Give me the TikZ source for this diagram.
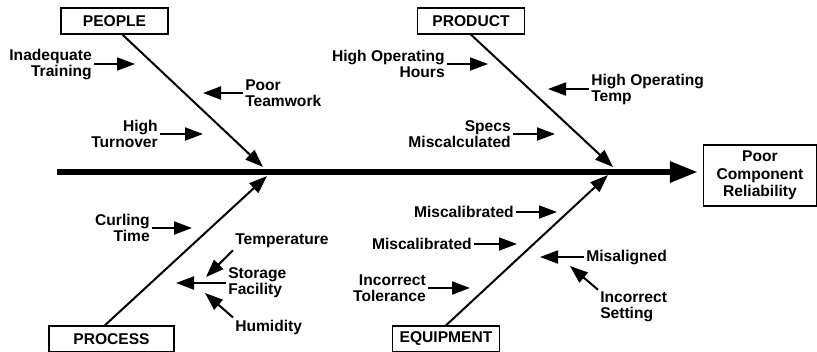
\documentclass[tikz,border=0pt]{standalone}
\usepackage{fontspec}
\setmainfont{Liberation Sans}
\usetikzlibrary{arrows.meta}
\begin{document}
\begin{tikzpicture}[x=0.75pt,y=-0.75pt,>={Triangle[length=13.5pt,width=9.75pt]},
  font=\fontsize{11.7}{12}\selectfont\bfseries,
  catbox/.style={draw,line width=1pt,minimum width=80.25pt,minimum height=19.5pt,inner sep=0pt},
  cause/.style={inner sep=1.5pt},
  bone/.style={line width=1.5pt,->},
  sub/.style={line width=1.5pt,->}]
 \clip (0,0) rectangle (817,351);
 % head and spine
 \node[catbox,minimum width=84.75pt,minimum height=45.75pt,align=center,font=\fontsize{11.7}{13}\selectfont\bfseries] (effect) at (760,175.5) {Poor\\Component\\Reliability};
 \coordinate (tail) at (57,172);
 \draw[line width=4.5pt,-{Triangle[length=21pt,width=15pt]},shorten >=3.75pt] (tail) -- (tail -| effect.west);
 % categories
 \node[catbox] (people) at (114.5,21) {PEOPLE};
 \node[catbox] (product) at (471,21) {PRODUCT};
 \node[catbox,minimum width=93.75pt] (process) at (111.5,339) {PROCESS};
 \node[catbox] (equip) at (446,339) {EQUIPMENT};
 \coordinate (pTip) at (263,167);
 \coordinate (dTip) at (613,167);
 \coordinate (sTip) at (267,176);
 \coordinate (eTip) at (608,175);
 \draw[bone] ([xshift=6pt]people.south) -- (pTip);
 \draw[bone] (product.south) -- (dTip);
 \draw[bone] ([xshift=-5pt]process.north) -- (sTip);
 \draw[bone] (equip.north) -- (eTip);
 % people
 \node[cause,anchor=east,align=right] (c1) at (94,64) {Inadequate\\Training};
 \node[cause,anchor=west,align=left] (c2) at (243,93) {Poor\\Teamwork};
 \node[cause,anchor=east,align=right] (c3) at (160,134) {High\\Turnover};
 \coordinate (a1) at (135,64);
 \coordinate (a2) at (203,93);
 \coordinate (a3) at (203,134);
 \draw[sub] (c1.east) -- (a1);
 \draw[sub] (c2.west) -- (a2);
 \draw[sub] (c3.east) -- (a3);
 % product
 \node[cause,anchor=east,align=right] (c4) at (447,64) {High Operating\\Hours};
 \node[cause,anchor=west,align=left] (c5) at (589,89) {High Operating\\Temp};
 \node[cause,anchor=east,align=right] (c6) at (513,134) {Specs\\Miscalculated};
 \coordinate (a4) at (488,64);
 \coordinate (a5) at (548,89);
 \coordinate (a6) at (555,134);
 \draw[sub] (c4.east) -- (a4);
 \draw[sub] (c5.west) -- (a5);
 \draw[sub] (c6.east) -- (a6);
 % process
 \node[cause,anchor=east,align=right] (c7) at (152,228) {Curling\\Time};
 \node[cause,anchor=west] (c8) at (233,241) {Temperature};
 \node[cause,anchor=west,align=left] (c9) at (226,283) {Storage\\Facility};
 \node[cause,anchor=west] (c10) at (233,327) {Humidity};
 \coordinate (a7) at (192,228);
 \coordinate (a8) at (206,277);
 \coordinate (a9) at (176,283);
 \coordinate (a10) at (205,293);
 \draw[sub] (c7.east) -- (a7);
 \draw[sub] (c8.south west) -- (a8);
 \draw[sub] (c9.west) -- (a9);
 \draw[sub] (c10.north west) -- (a10);
 % equipment
 \node[cause,anchor=east] (c11) at (516,212) {Miscalibrated};
 \node[cause,anchor=east] (c12) at (474,244) {Miscalibrated};
 \node[cause,anchor=east,align=right] (c13) at (428,288) {Incorrect\\Tolerance};
 \node[cause,anchor=west] (c14) at (584,257) {Misaligned};
 \node[cause,anchor=west,align=left] (c15) at (598,307) {Incorrect\\Setting};
 \coordinate (a11) at (557,212);
 \coordinate (a12) at (517,244);
 \coordinate (a13) at (470,288);
 \coordinate (a14) at (540,257);
 \coordinate (a15) at (570,266);
 \draw[sub] (c11.east) -- (a11);
 \draw[sub] (c12.east) -- (a12);
 \draw[sub] (c13.east) -- (a13);
 \draw[sub] (c14.west) -- (a14);
 \draw[sub] (c15.north west) -- (a15);
\end{tikzpicture}
\end{document}
